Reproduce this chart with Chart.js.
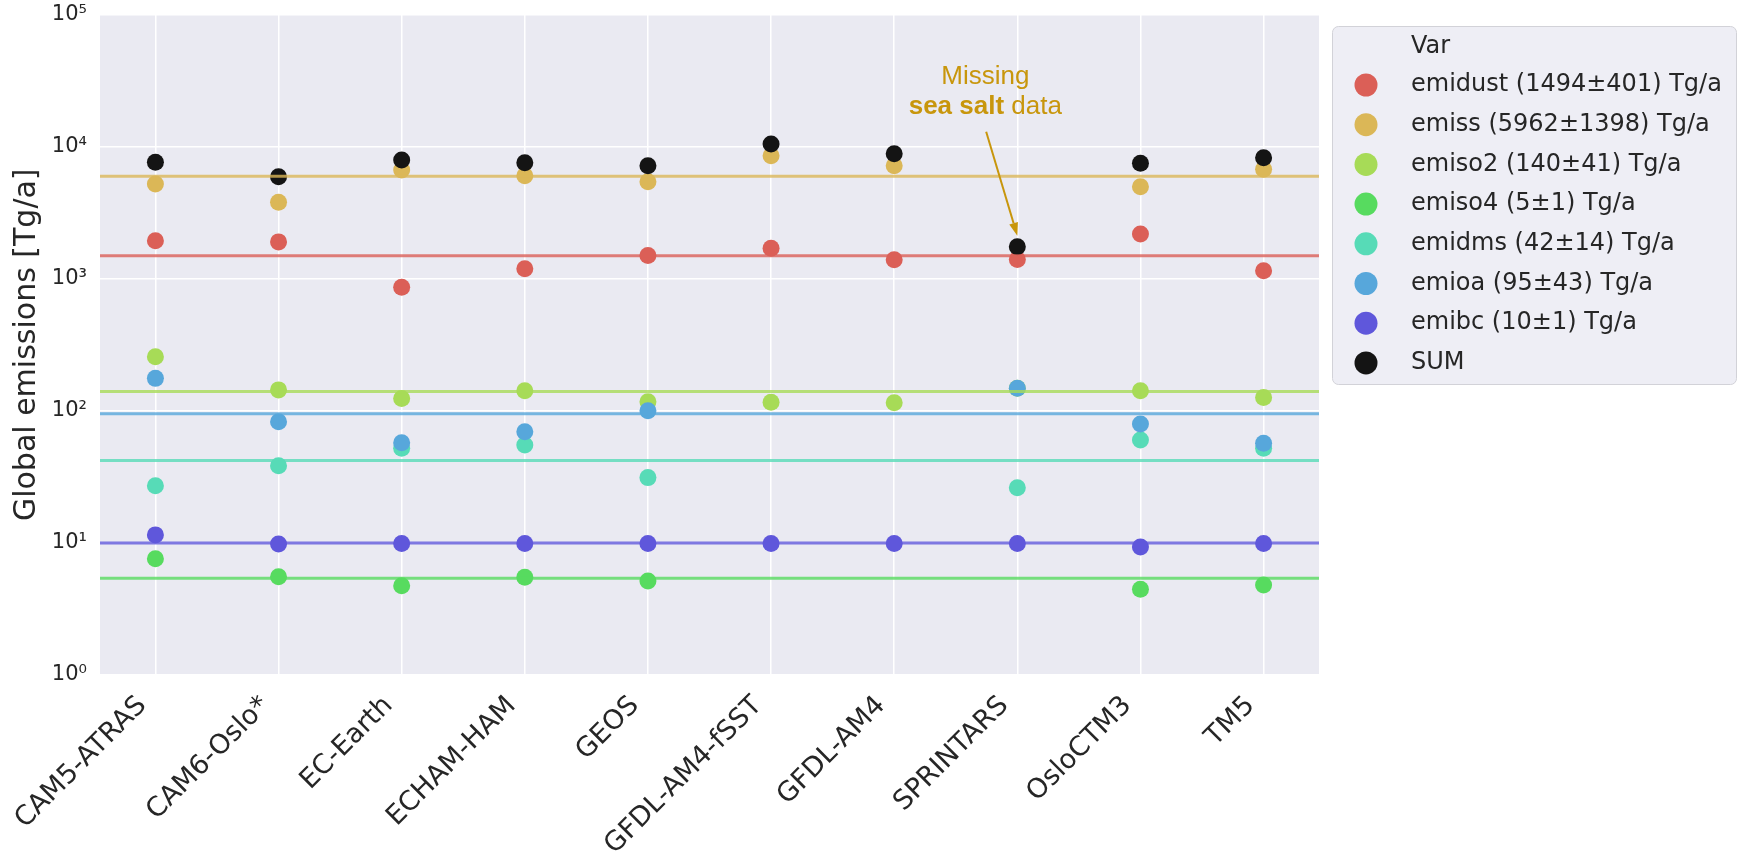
<!DOCTYPE html>
<html>
<head>
<meta charset="utf-8">
<script src="https://cdn.jsdelivr.net/npm/chart.js@4/dist/chart.umd.min.js"></script>
<style>
  html, body { margin: 0; padding: 0; background: #ffffff; }
  #wrap { width: 1741px; height: 851px; }
</style>
</head>
<body>
<div id="wrap"><canvas id="chart" width="1741" height="851"></canvas></div>
<script>
// Models on the x axis
const categories = ['CAM5-ATRAS', 'CAM6-Oslo*', 'EC-Earth', 'ECHAM-HAM', 'GEOS',
                    'GFDL-AM4-fSST', 'GFDL-AM4', 'SPRINTARS', 'OsloCTM3', 'TM5'];

// Global emissions per model [Tg/a]; null = not provided by the model
const emidust = [1940, 1900, 860, 1190, 1500, 1700, 1390, 1400, 2180, 1150];
const emiss   = [5210, 3790, 6650, 6020, 5420, 8530, 7170, null, 4970, 6730];
const emiso2  = [257, 144, 124, 142, 117, 116, 115, 148, 142, 126];
const emiso4  = [7.6, 5.55, 4.74, 5.49, 5.15, null, null, null, 4.46, 4.8];
const emidms  = [27.1, 38.4, 52, 55, 31.2, null, null, 26.2, 60, 52];
const emioa   = [176, 82.7, 57.4, 69.5, 100, null, null, 148, 79.4, 56.8];
const emibc   = [11.5, 9.8, 9.9, 9.9, 9.9, 9.9, 9.9, 9.9, 9.3, 9.9];
const emisum  = [7600, 5920, 7920, 7550, 7170, 10470, 8840, 1747, 7470, 8240];

// Multi-model mean and standard deviation per variable [Tg/a]
const varNames = ['emidust', 'emiss', 'emiso2', 'emiso4', 'emidms', 'emioa', 'emibc'];
const varMeans = [1494, 5962, 140, 5.4, 42, 95, 10];
const varStds  = [401, 1398, 41, 1, 14, 43, 1];

// Y axis decades and their labels
const yTickValues = [1, 10, 100, 1000, 10000, 100000];
const yTickLabels = ['10\u2070', '10\u00b9', '10\u00b2', '10\u00b3', '10\u2074', '10\u2075'];

const seriesValues = [emidust, emiss, emiso2, emiso4, emidms, emioa, emibc];
const colors = ['#db5f57', '#dbb757', '#a7db57', '#57db5f', '#57dbb7', '#57a7db', '#5f57db'];
const sumColor = '#141414';
const alpha = (hex, a) => {
  const n = parseInt(hex.slice(1), 16);
  return `rgba(${(n >> 16) & 255},${(n >> 8) & 255},${n & 255},${a})`;
};

const X_MIN = -0.45, X_MAX = categories.length - 1 + 0.45;
const toPoints = arr => arr.map((v, i) => (v == null ? null : { x: i, y: v })).filter(p => p);

const legendEntries = varNames.map((n, k) => ({
  text: `${n} (${Math.round(varMeans[k])}\u00b1${varStds[k]}) Tg/a`,
  color: colors[k]
}));
legendEntries.push({ text: 'SUM', color: sumColor });

const datasets = [];
// Mean lines, drawn on top of the points
varMeans.forEach((m, k) => {
  datasets.push({
    type: 'line',
    label: varNames[k] + ' mean',
    data: [{ x: X_MIN, y: m }, { x: X_MAX, y: m }],
    borderColor: alpha(colors[k], 0.8),
    borderWidth: 3,
    pointRadius: 0,
    fill: false,
    clip: 0,
    order: 0
  });
});
// Scatter points; later variables sit above earlier ones, SUM on top
seriesValues.forEach((vals, k) => {
  datasets.push({
    type: 'scatter',
    label: varNames[k],
    data: toPoints(vals),
    backgroundColor: colors[k],
    borderWidth: 0,
    pointRadius: 8.5,
    pointHoverRadius: 8.5,
    order: 10 - k
  });
});
datasets.push({
  type: 'scatter',
  label: 'SUM',
  data: toPoints(emisum),
  backgroundColor: sumColor,
  borderWidth: 0,
  pointRadius: 8.5,
  pointHoverRadius: 8.5,
  order: 2
});

const plotBackground = {
  id: 'plotBackground',
  beforeDraw(chart) {
    const { ctx, chartArea: a } = chart;
    ctx.save();
    ctx.fillStyle = '#eaeaf2';
    ctx.fillRect(a.left, a.top, a.right - a.left, a.bottom - a.top);
    ctx.restore();
  }
};

const sideLegend = {
  id: 'sideLegend',
  afterDraw(chart) {
    const { ctx, chartArea: a } = chart;
    const left = a.right + 13, top = 26, w = 404, h = 358;
    ctx.save();
    ctx.beginPath();
    ctx.roundRect(left + 0.5, top + 0.5, w, h, 6);
    ctx.fillStyle = 'rgba(234,234,242,0.8)';
    ctx.fill();
    ctx.strokeStyle = '#d2d2d8';
    ctx.lineWidth = 1;
    ctx.stroke();
    ctx.font = '24px "DejaVu Sans"';
    ctx.textBaseline = 'middle';
    ctx.textAlign = 'left';
    ctx.fillStyle = '#262626';
    const textX = left + 79, markX = left + 34;
    ctx.fillText('Var', textX, top + 21);
    legendEntries.forEach((e, i) => {
      const y = top + 59 + i * 39.7;
      ctx.beginPath();
      ctx.arc(markX, y, 11.5, 0, Math.PI * 2);
      ctx.fillStyle = e.color;
      ctx.fill();
      ctx.fillStyle = '#262626';
      ctx.fillText(e.text, textX, y);
    });
    ctx.restore();
  }
};

// Note pointing at the SPRINTARS total
const missingNote = {
  id: 'missingNote',
  afterDatasetsDraw(chart) {
    const { ctx } = chart;
    const xs = chart.scales.x, ys = chart.scales.y;
    const idx = categories.indexOf('SPRINTARS');
    const tipX = xs.getPixelForValue(idx);
    const tipY = ys.getPixelForValue(emisum[idx]) - 11;
    const startX = xs.getPixelForValue(idx - 0.253);
    const startY = ys.getPixelForValue(12970);
    const textX = xs.getPixelForValue(idx - 0.26);
    const gold = '#c8960c';
    ctx.save();
    ctx.strokeStyle = gold;
    ctx.fillStyle = gold;
    ctx.lineWidth = 2;
    const ang = Math.atan2(tipY - startY, tipX - startX);
    const headLen = 13, headW = 4.5;
    const baseX = tipX - headLen * Math.cos(ang), baseY = tipY - headLen * Math.sin(ang);
    ctx.beginPath();
    ctx.moveTo(startX, startY);
    ctx.lineTo(baseX, baseY);
    ctx.stroke();
    ctx.beginPath();
    ctx.moveTo(tipX, tipY);
    ctx.lineTo(baseX + headW * Math.sin(ang), baseY - headW * Math.cos(ang));
    ctx.lineTo(baseX - headW * Math.sin(ang), baseY + headW * Math.cos(ang));
    ctx.closePath();
    ctx.fill();

    ctx.textBaseline = 'middle';
    ctx.textAlign = 'center';
    ctx.font = '26px "Liberation Sans"';
    ctx.fillText('Missing', textX, ys.getPixelForValue(33800));
    const y2 = ys.getPixelForValue(20050);
    const boldPart = 'sea salt', restPart = ' data';
    ctx.font = 'bold 26px "Liberation Sans"';
    const wb = ctx.measureText(boldPart).width;
    ctx.font = '26px "Liberation Sans"';
    const wr = ctx.measureText(restPart).width;
    const x0 = textX - (wb + wr) / 2;
    ctx.textAlign = 'left';
    ctx.font = 'bold 26px "Liberation Sans"';
    ctx.fillText(boldPart, x0, y2);
    ctx.font = '26px "Liberation Sans"';
    ctx.fillText(restPart, x0 + wb, y2);
    ctx.restore();
  }
};

new Chart(document.getElementById('chart'), {
  data: { datasets },
  options: {
    responsive: false,
    animation: false,
    devicePixelRatio: 1,
    layout: { autoPadding: false, padding: { top: 14.5, right: 422, bottom: 0, left: 0 } },
    plugins: { legend: { display: false }, tooltip: { enabled: false } },
    scales: {
      x: {
        type: 'linear',
        min: X_MIN,
        max: X_MAX,
        afterBuildTicks: s => { s.ticks = categories.map((c, i) => ({ value: i })); },
        afterFit: s => { s.height = 176; s.paddingLeft = 0; s.paddingRight = 0; },
        grid: { color: '#ffffff', lineWidth: 1.5, drawTicks: false },
        border: { display: false },
        ticks: {
          autoSkip: false,
          minRotation: 45,
          maxRotation: 45,
          padding: 15,
          labelOffset: -13,
          color: '#262626',
          font: { family: 'DejaVu Sans', size: 27 },
          callback: v => categories[v]
        }
      },
      y: {
        type: 'logarithmic',
        min: 1,
        max: 100000,
        afterBuildTicks: s => { s.ticks = yTickValues.map(v => ({ value: v })); },
        afterFit: s => { s.width = 100; s.paddingTop = 0; s.paddingBottom = 0; },
        grid: { color: '#ffffff', lineWidth: 1.5, drawTicks: false },
        border: { display: false },
        ticks: {
          padding: 13,
          color: '#262626',
          font: { family: 'DejaVu Sans', size: 21 },
          callback: v => yTickLabels[yTickValues.indexOf(v)]
        },
        title: {
          display: true,
          text: 'Global emissions [Tg/a]',
          color: '#262626',
          font: { family: 'DejaVu Sans', size: 30 },
          padding: { top: 9, bottom: 0 }
        }
      }
    }
  },
  plugins: [plotBackground, sideLegend, missingNote]
});
</script>
</body>
</html>
